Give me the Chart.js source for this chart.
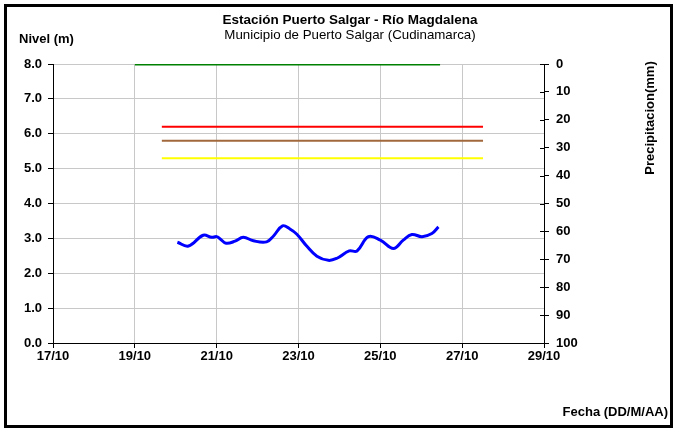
<!DOCTYPE html>
<html>
<head>
<meta charset="utf-8">
<script src="https://cdn.jsdelivr.net/npm/chart.js@4/dist/chart.umd.min.js"></script>
<style>
  body { margin: 0; background: #fff; }
  #wrap { width: 677px; height: 432px; }
</style>
</head>
<body>
<div id="wrap"><canvas id="nivel-chart" width="677" height="432"></canvas></div>
<script>
/* Nivel del río - Puerto Salgar */
var fechas = [20.04, 20.31, 20.67, 20.88, 21.00, 21.08, 21.23, 21.45, 21.65, 21.90,
              22.22, 22.39, 22.61, 22.79, 22.96, 23.20, 23.45, 23.73, 23.94, 24.24,
              24.43, 24.71, 25.00, 25.32, 25.56, 25.77, 26.02, 26.26, 26.42];
var nivel = [2.89, 2.78, 3.09, 3.03, 3.05, 2.99, 2.86, 2.92, 3.03, 2.93,
             2.90, 3.07, 3.36, 3.27, 3.12, 2.78, 2.49, 2.37, 2.43, 2.64,
             2.64, 3.05, 2.95, 2.71, 2.95, 3.11, 3.05, 3.14, 3.33];

// cotas de alerta
var alertaFechas = [19.66, 27.51];
var alertaRoja = [6.2, 6.2];
var alertaNaranja = [5.8, 5.8];
var alertaAmarilla = [5.3, 5.3];

// precipitacion
var lluviaFechas = [19.0, 26.46];
var lluvia = [0, 0];

var xTicks = [17, 19, 21, 23, 25, 27, 29];

function pares(xs, ys) {
	return xs.map(function (x, i) { return { x: x, y: ys[i] }; });
}

var fuente = '"Liberation Sans", Arial, sans-serif';

var textos = {
	id: 'textos',
	afterDraw: function (chart) {
		var c = chart.ctx;
		c.save();
		// marcas que cruzan el eje derecho
		var s = chart.scales.y1;
		c.strokeStyle = '#000';
		c.lineWidth = 1;
		s.ticks.forEach(function (t) {
			var py = Math.round(s.getPixelForValue(t.value)) + 0.5;
			c.beginPath();
			c.moveTo(s.left - 4, py);
			c.lineTo(s.left, py);
			c.stroke();
		});
		c.fillStyle = '#000';
		c.textBaseline = 'middle';
		c.textAlign = 'center';
		c.font = 'bold 13.5px ' + fuente;
		c.fillText('Estación Puerto Salgar - Río Magdalena', 350, 20);
		c.font = '13.3px ' + fuente;
		c.fillText('Municipio de Puerto Salgar (Cudinamarca)', 350, 35);
		c.font = 'bold 13px ' + fuente;
		c.textAlign = 'left';
		c.fillText('Nivel (m)', 19, 39);
		c.textAlign = 'right';
		c.fillText('Fecha (DD/M/AA)', 668, 412);
		c.translate(650, 118);
		c.rotate(-Math.PI / 2);
		c.textAlign = 'center';
		c.fillText('Precipitacion(mm)', 0, 0);
		c.restore();
		c.save();
		c.strokeStyle = '#000';
		c.lineWidth = 3;
		c.strokeRect(5.5, 5.5, 666, 421);
		c.restore();
	}
};

var config = {
	type: 'line',
	data: {
		datasets: [{
			label: 'Nivel',
			data: pares(fechas, nivel),
			borderColor: '#0000ff',
			borderWidth: 3,
			tension: 0.4,
			pointRadius: 0,
			yAxisID: 'y'
		}, {
			label: 'Roja',
			data: pares(alertaFechas, alertaRoja),
			borderColor: '#ff0000',
			borderWidth: 2,
			pointRadius: 0,
			yAxisID: 'y'
		}, {
			label: 'Naranja',
			data: pares(alertaFechas, alertaNaranja),
			borderColor: '#a0683c',
			borderWidth: 2,
			pointRadius: 0,
			yAxisID: 'y'
		}, {
			label: 'Amarilla',
			data: pares(alertaFechas, alertaAmarilla),
			borderColor: '#ffff00',
			borderWidth: 2,
			pointRadius: 0,
			yAxisID: 'y'
		}, {
			label: 'Precipitacion',
			data: pares(lluviaFechas, lluvia),
			borderColor: '#008000',
			borderWidth: 3,
			pointRadius: 0,
			yAxisID: 'y1'
		}]
	},
	options: {
		responsive: false,
		animation: false,
		layout: { padding: { top: 64, left: 0, right: 0, bottom: 0 } },
		plugins: {
			legend: { display: false },
			tooltip: { enabled: false }
		},
		scales: {
			x: {
				type: 'linear',
				min: 17,
				max: 29,
				afterFit: function (s) { s.height = 89; },
				afterBuildTicks: function (s) { s.ticks = xTicks.map(function (v) { return { value: v }; }); },
				ticks: {
					color: '#000',
					font: { family: fuente, size: 13, weight: 'bold' },
					maxRotation: 0,
					padding: 1,
					callback: function (v) { return v + '/10'; }
				},
				grid: { color: '#c8c8c8', tickColor: '#000', tickLength: 5 },
				border: { color: '#000', width: 1 }
			},
			y: {
				position: 'left',
				min: 0,
				max: 8,
				afterFit: function (s) { s.width = 53; },
				ticks: {
					stepSize: 1,
					color: '#000',
					font: { family: fuente, size: 13, weight: 'bold' },
					padding: 6,
					callback: function (v) { return v.toFixed(1); }
				},
				grid: { color: '#c8c8c8', tickColor: '#000', tickLength: 5 },
				border: { color: '#000', width: 1 }
			},
			y1: {
				position: 'right',
				reverse: true,
				min: 0,
				max: 100,
				afterFit: function (s) { s.width = 133; },
				ticks: {
					stepSize: 10,
					color: '#000',
					font: { family: fuente, size: 13, weight: 'bold' },
					padding: 7
				},
				grid: { drawOnChartArea: false, tickColor: '#000', tickLength: 5 },
				border: { color: '#000', width: 1 }
			}
		}
	},
	plugins: [textos]
};

var ctx = document.getElementById('nivel-chart').getContext('2d');
window.myNivel = new Chart(ctx, config);
</script>
</body>
</html>
